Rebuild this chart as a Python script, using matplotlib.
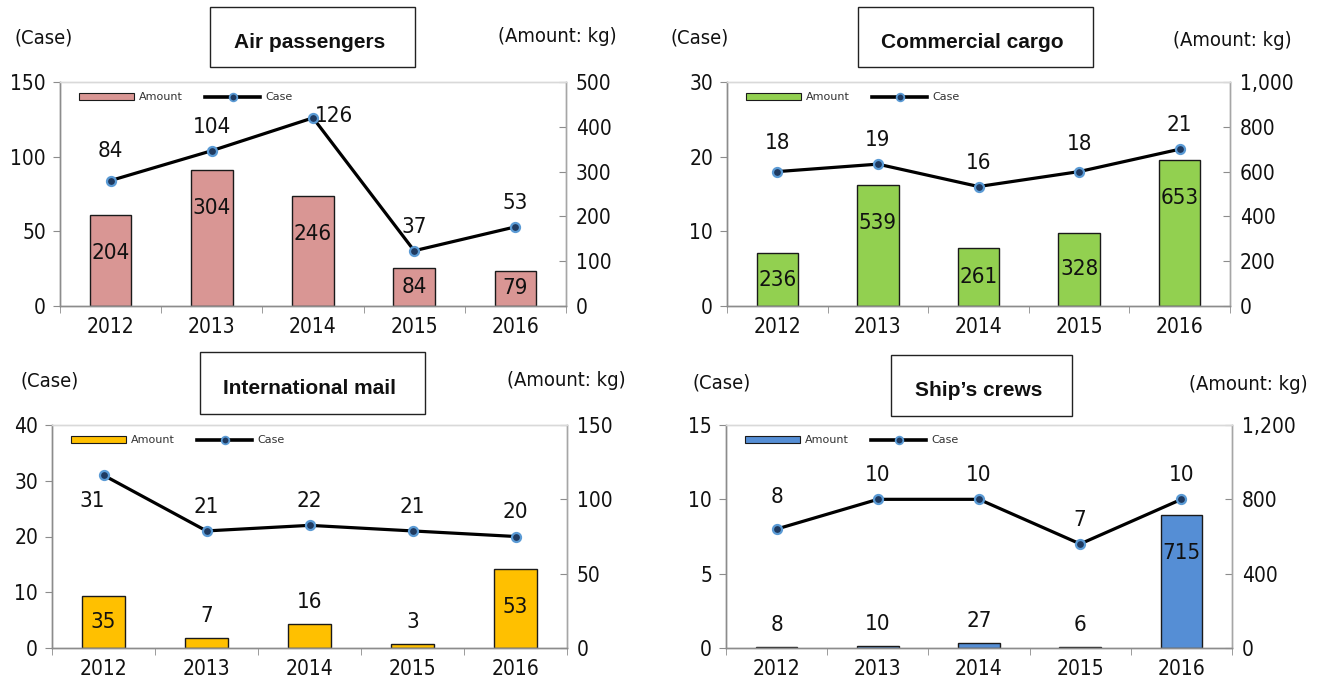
import matplotlib
matplotlib.use("Agg")
import matplotlib.pyplot as plt
from matplotlib import font_manager
from matplotlib.patches import Rectangle, Patch
from matplotlib.lines import Line2D
from matplotlib.ticker import FuncFormatter

# ---------------- data ----------------
years = ["2012", "2013", "2014", "2015", "2016"]

air_cases = [84, 104, 126, 37, 53]
air_amount = [204, 304, 246, 84, 79]

cargo_cases = [18, 19, 16, 18, 21]
cargo_amount = [236, 539, 261, 328, 653]

mail_cases = [31, 21, 22, 21, 20]
mail_amount = [35, 7, 16, 3, 53]

crew_cases = [8, 10, 10, 7, 10]
crew_amount = [8, 10, 27, 6, 715]

titles = ["Air passengers", "Commercial cargo", "International mail", "Ship\u2019s crews"]
left_label = "(Case)"
right_label = "(Amount: kg)"
legend_labels = ["Amount", "Case"]

# ---------------- fonts ----------------
entries = font_manager.fontManager.ttflist
has_dv_cond = any(f.name == "DejaVu Sans" and str(f.stretch) in ("condensed", "semi-condensed", "75", "87") for f in entries)
names = {f.name for f in entries}
if has_dv_cond:
    NUM = dict(family="DejaVu Sans", stretch="condensed")
elif "Liberation Sans Narrow" in names:
    NUM = dict(family="Liberation Sans Narrow")
else:
    NUM = dict(family="Liberation Sans")
TITLE = dict(family="Liberation Sans", weight="bold")

W, H = 1317, 687
fig = plt.figure(figsize=(W / 100, H / 100), dpi=100)
fig.patch.set_facecolor("white")


def fx(x):
    return x / W


def fy(y):
    return 1 - y / H


panels = [
    dict(cases=air_cases, amount=air_amount, color="#D99694", box=(60, 82, 566, 306),
         lmax=150, lstep=50, rmax=500, rstep=100, title=titles[0],
         tbox=(210, 7, 415, 67), case_pos=(44, 38), amt_pos=(557, 36),
         overrides={0: (0, 30), 2: (21, 2)}),
    dict(cases=cargo_cases, amount=cargo_amount, color="#92D050", box=(727, 82, 1230, 306),
         lmax=30, lstep=10, rmax=1000, rstep=200, title=titles[1],
         tbox=(858, 7, 1093, 67), case_pos=(700, 38), amt_pos=(1232, 40),
         overrides={0: (0, 29), 3: (0, 28)}),
    dict(cases=mail_cases, amount=mail_amount, color="#FFC000", box=(52, 425, 567, 648),
         lmax=40, lstep=10, rmax=150, rstep=50, title=titles[2],
         tbox=(200, 352, 425, 414), case_pos=(50, 381), amt_pos=(566, 380),
         overrides={0: (-11, -26)}),
    dict(cases=crew_cases, amount=crew_amount, color="#558ED5", box=(726, 425, 1232, 648),
         lmax=15, lstep=5, rmax=1200, rstep=400, title=titles[3],
         tbox=(891, 355, 1072, 416), case_pos=(722, 383), amt_pos=(1248, 385),
         overrides={0: (0, 32)}),
]

PX2PT = 72 / 100.0
GRAY = "#8C8C8C"
TICK_FS = 15
LABEL_FS = 16

for p in panels:
    l, t, r, b = p["box"]
    ax = fig.add_axes([fx(l), fy(b), fx(r - l), (b - t) / H])
    ax2 = ax.twinx()
    ax.set_zorder(ax2.get_zorder() + 1)
    ax.patch.set_visible(False)

    x = list(range(len(years)))
    ax_h_px = b - t

    # bars (amount, right axis)
    ax2.bar(x, p["amount"], width=0.41, color=p["color"], edgecolor="#1a1a1a", linewidth=1.0, zorder=2)
    ax2.set_ylim(0, p["rmax"])
    ax2.set_yticks(list(range(0, p["rmax"] + 1, p["rstep"])))
    ax2.yaxis.set_major_formatter(FuncFormatter(lambda v, pos: f"{int(v):,}"))

    for i, v in enumerate(p["amount"]):
        h_px = v / p["rmax"] * ax_h_px
        if h_px < 30:
            off = 22
        else:
            off = -min(h_px / 2, 38)
        ax2.annotate(str(v), (i, v), xytext=(0, off * PX2PT), textcoords="offset points",
                     ha="center", va="center", fontsize=LABEL_FS, color="#111111", zorder=5, **NUM)

    # line (cases, left axis)
    ax.plot(x, p["cases"], color="black", linewidth=2.3, marker="o", markersize=6.5,
            markerfacecolor="#1F3A60", markeredgecolor="#5B9BD5", markeredgewidth=1.6, zorder=4)
    ax.set_ylim(0, p["lmax"])
    ax.set_yticks(list(range(0, p["lmax"] + 1, p["lstep"])))

    for i, v in enumerate(p["cases"]):
        dx, dy = p["overrides"].get(i, (0, 24))
        ax.annotate(str(v), (i, v), xytext=(dx * PX2PT, dy * PX2PT), textcoords="offset points",
                    ha="center", va="center", fontsize=LABEL_FS, color="#111111", **NUM)

    ax.set_xlim(-0.5, len(years) - 0.5)
    ax.set_xticks(x)
    ax.set_xticklabels(years)
    ax.set_xticks([i - 0.5 for i in range(len(years) + 1)], minor=True)
    ax.tick_params(axis="x", which="major", length=0, pad=8)
    ax.tick_params(axis="x", which="minor", length=5, color=GRAY, direction="out")
    ax.tick_params(axis="y", which="major", length=5, color=GRAY, direction="out", pad=5)
    ax2.tick_params(axis="y", which="major", length=5, color=GRAY, direction="in", pad=7)
    for lab in ax.get_xticklabels() + ax.get_yticklabels() + ax2.get_yticklabels():
        lab.set_fontproperties(font_manager.FontProperties(size=TICK_FS, **NUM))
        lab.set_color("#111111")

    for a in (ax, ax2):
        a.spines["left"].set_color(GRAY)
        a.spines["bottom"].set_color(GRAY)
        a.spines["right"].set_color("#A6A6A6")
        a.spines["top"].set_color("#D9D9D9")
        for s in a.spines.values():
            s.set_linewidth(1.0)

    # legend
    handles = [
        Patch(facecolor=p["color"], edgecolor="#1a1a1a", linewidth=0.8),
        Line2D([0], [0], color="black", linewidth=2.6, marker="o", markersize=5.5,
               markerfacecolor="#1F3A60", markeredgecolor="#5B9BD5", markeredgewidth=1.3),
    ]
    leg = ax.legend(handles, legend_labels, loc="upper left",
                    bbox_to_anchor=(fx(l + 17), fy(t + 8)), bbox_transform=fig.transFigure,
                    ncol=2, frameon=False, fontsize=8, handlelength=4.9, handleheight=0.55,
                    handletextpad=0.5, columnspacing=2.0, borderaxespad=0, borderpad=0.2,
                    numpoints=1)
    for txt in leg.get_texts():
        txt.set_color("#333333")

    # title box
    bx0, by0, bx1, by1 = p["tbox"]
    fig.patches.append(Rectangle((fx(bx0), fy(by1)), fx(bx1 - bx0), (by1 - by0) / H,
                                 transform=fig.transFigure, facecolor="white",
                                 edgecolor="#222222", linewidth=1.0))
    fig.text(fx((bx0 + bx1) / 2 - 3), fy((by0 + by1) / 2 + 5), p["title"], ha="center", va="center",
             fontsize=15, color="#111111", **TITLE)

    fig.text(fx(p["case_pos"][0]), fy(p["case_pos"][1]), left_label, ha="center", va="center",
             fontsize=14.5, color="#111111", **NUM)
    fig.text(fx(p["amt_pos"][0]), fy(p["amt_pos"][1]), right_label, ha="center", va="center",
             fontsize=14.5, color="#111111", **NUM)

fig.savefig("out.png", dpi=100, facecolor="white")
